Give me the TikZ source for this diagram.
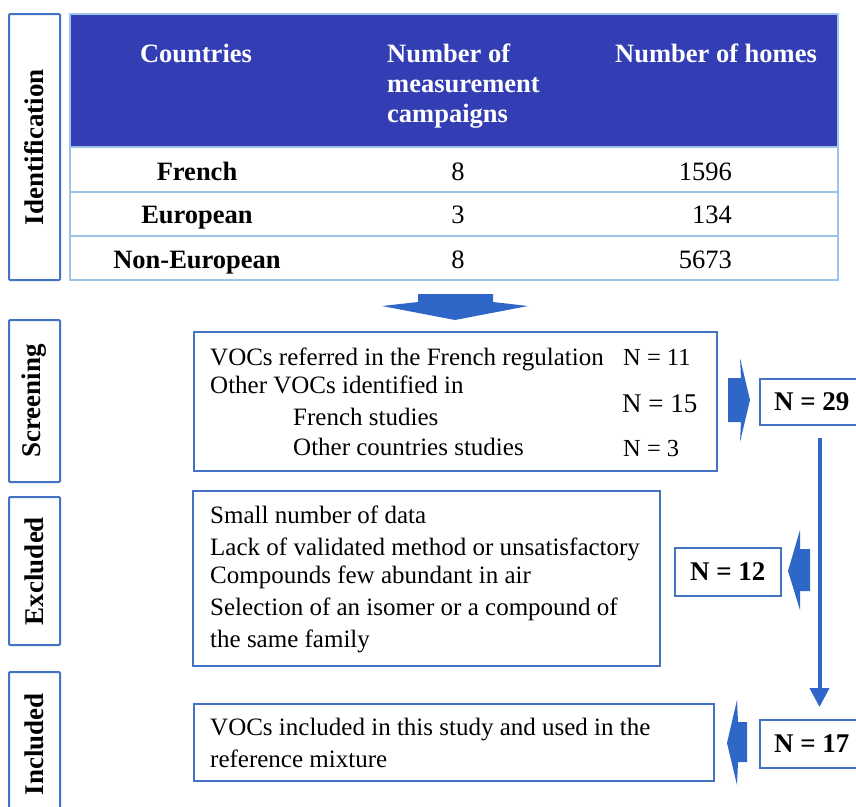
\documentclass[tikz,border=0pt]{standalone}
\usepackage{fontspec}
\setmainfont{Liberation Serif}
\usetikzlibrary{arrows.meta,positioning}
\definecolor{headblue}{RGB}{51,62,181}
\definecolor{frameblue}{RGB}{68,114,196}
\definecolor{gridblue}{RGB}{157,195,230}
\definecolor{arrowblue}{RGB}{46,103,200}
\tikzset{stage label/.style={draw=frameblue, line width=2pt, rounded corners=1pt,
    rotate=90, minimum height=51pt, inner sep=0pt,
    font=\bfseries\fontsize{27}{30}\selectfont}}
\tikzset{list box/.style={draw=frameblue, line width=1.5pt, inner sep=0pt, anchor=north west}}
\tikzset{count box/.style={list box, font=\bfseries\fontsize{27}{30}\selectfont}}
\tikzset{body text/.style={anchor=base west, inner sep=0pt, font=\fontsize{25}{30}\selectfont}}
\tikzset{head text/.style={anchor=base west, inner sep=0pt, text=white,
    font=\bfseries\fontsize{26.5}{33}\selectfont}}
\tikzset{cell text/.style={anchor=base, inner sep=0pt, font=\fontsize{26.5}{30}\selectfont}}
\tikzset{block arrow/.style={fill=arrowblue}}

\begin{document}
\begin{tikzpicture}[x=1pt, y=-1pt]
  \useasboundingbox (0,0) rectangle (856,806);
  \clip (0,0) rectangle (856,806);

  % stage labels on the left
  \node [stage label, minimum width=266pt] (ident)  at (34.5,147) {Identification};
  \node [stage label, minimum width=162pt] (screen) at (34.5,401) {Screening};
  \node [stage label, minimum width=148pt] (excl)   at (34.5,571) {Excluded};
  \node [stage label, minimum width=144pt] (incl)   at (34.5,744) {Included};

  % table
  \fill [headblue] (70,14) rectangle (838,147);
  \draw [gridblue, line width=1.5pt] (70,14) rectangle (838,280);
  \foreach \y in {147,192,236}
    \draw [gridblue, line width=1.5pt] (70,\y) -- (838,\y);

  \node [head text, anchor=base] (hcountry) at (196,62)  {Countries};
  \node [head text]              (hcamp1)   at (387,62)  {Number of};
  \node [head text]              (hcamp2)   at (387,92)  {measurement};
  \node [head text]              (hcamp3)   at (387,122) {campaigns};
  \node [head text]              (hhomes)   at (615,62)  {Number of homes};

  \node [cell text, font=\bfseries\fontsize{26.5}{30}\selectfont] (rfr) at (197,180) {French};
  \node [cell text, font=\bfseries\fontsize{26.5}{30}\selectfont] (reu) at (197,223) {European};
  \node [cell text, font=\bfseries\fontsize{26.5}{30}\selectfont] (rne) at (197,268) {Non-European};
  \node [cell text] (cfr) at (458,180) {8};
  \node [cell text] (ceu) at (458,223) {3};
  \node [cell text] (cne) at (458,268) {8};
  \node [cell text, anchor=base east] (hfr) at (732,180) {1596};
  \node [cell text, anchor=base east] (heu) at (732,223) {134};
  \node [cell text, anchor=base east] (hne) at (732,268) {5673};

  % screening
  \node [list box, minimum width=523pt, minimum height=139pt] (scrbox) at (193,331) {};
  \node [body text] (scr1) at (210,365) {VOCs referred in the French regulation};
  \node [body text] (scr2) at (210,393) {Other VOCs identified in};
  \node [body text] (scr3) at (293,425) {French studies};
  \node [body text] (scr4) at (293,455) {Other countries studies};
  \node [body text, font=\fontsize{24.5}{30}\selectfont] (scrn1) at (623,365) {N = 11};
  \node [body text, font=\fontsize{27}{30}\selectfont]   (scrn2) at (622,412) {N = 15};
  \node [body text, font=\fontsize{24.5}{30}\selectfont] (scrn3) at (623,456) {N = 3};

  % excluded
  \node [list box, minimum width=467pt, minimum height=175pt] (exbox) at (192,490) {};
  \node [body text] (ex1) at (210,523) {Small number of data};
  \node [body text] (ex2) at (210,555) {Lack of validated method or unsatisfactory};
  \node [body text] (ex3) at (210,583) {Compounds few abundant in air};
  \node [body text] (ex4) at (210,615) {Selection of an isomer or a compound of};
  \node [body text] (ex5) at (210,647) {the same family};

  % included
  \node [list box, minimum width=520pt, minimum height=77pt] (inbox) at (193,703) {};
  \node [body text] (in1) at (210,735) {VOCs included in this study and used in the};
  \node [body text] (in2) at (210,767) {reference mixture};

  % counts
  \node [count box, minimum width=104pt, minimum height=46pt] (n29) at (759,378) {N = 29};
  \node [count box, minimum width=106pt, minimum height=48pt] (n12) at (674,547) {N = 12};
  \node [count box, minimum width=104pt, minimum height=48pt] (n17) at (759,719) {N = 17};

  \coordinate (spine) at (819.5,0);
  \draw [arrowblue, line width=4pt, shorten <=12pt, shorten >=12pt,
    -{Triangle[width=19pt,length=19pt]}] (n29.south -| spine) -- (n17.north -| spine);

  % block arrows
  \fill [block arrow] (418,294) -- (493,294) -- (493,302) -- (528,306) -- (455,320)
    -- (382,306) -- (418,302) -- cycle;
  \fill [block arrow] (728,378) -- (741,378) -- (740,358) -- (750,400) -- (740,442)
    -- (741,422) -- (728,422) -- cycle;
  \fill [block arrow] (810,549) -- (800,549) -- (800,530) -- (788,571) -- (800,610)
    -- (800,591) -- (810,591) -- cycle;
  \fill [block arrow] (747,722) -- (738,722) -- (737,700) -- (727,743) -- (737,785)
    -- (738,762) -- (747,762) -- cycle;
\end{tikzpicture}
\end{document}
